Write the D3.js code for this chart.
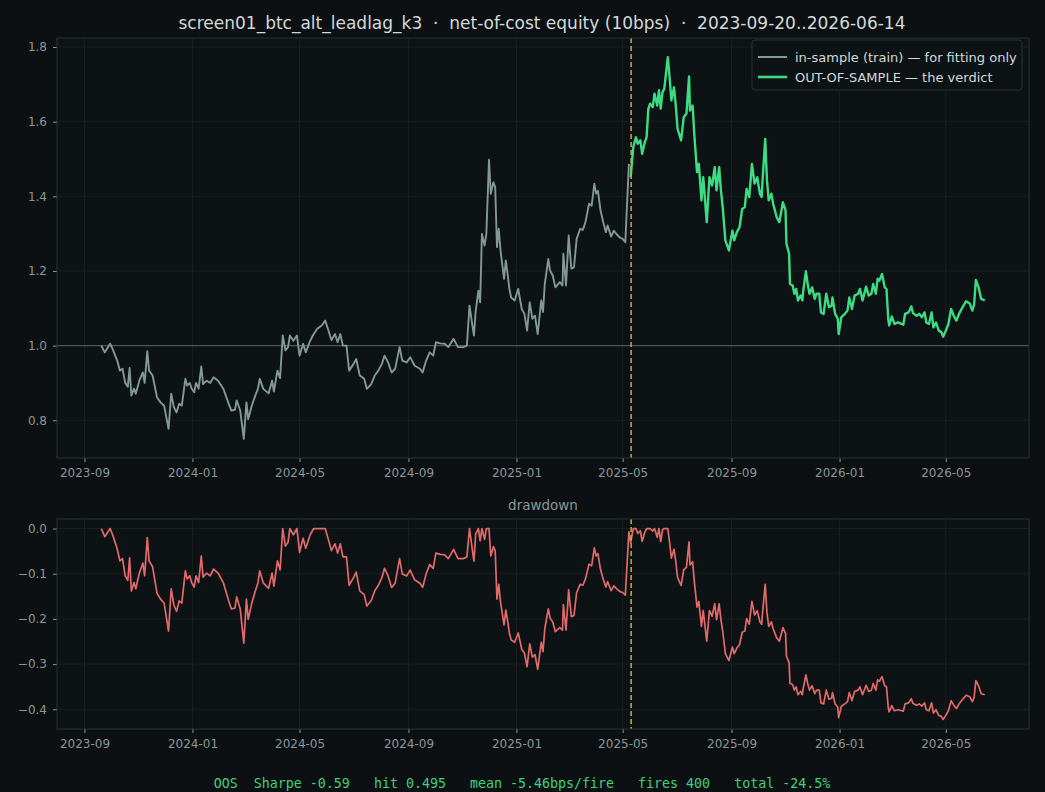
<!DOCTYPE html>
<html>
<head>
<meta charset="utf-8">
<script src="https://cdn.jsdelivr.net/npm/d3@7"></script>
<style>
  html,body{margin:0;padding:0;background:#0c1013;}
  svg{display:block;}
</style>
</head>
<body>
<div id="chart"></div>
<script>
// ---- data (day offset from 2023-09-20, equity value)
const startDate = new Date(2023, 8, 20);
const endDay = 998;
const splitDay = 598;

const isDays = [0,4,10,13,18,21,24,27,30,32,34,37,39,43,47,49,52,54,58,63,67,71,76,79,82,85,88,91,95,97,100,102,105,107,110,113,115,119,123,127,132,138,144,147,151,153,157,161,164,166,170,174,177,179,183,189,193,195,199,202,205,208,211,213,217,221,224,228,231,236,240,244,249,253,256,260,264,267,270,273,277,280,285,288,292,297,300,305,309,313,317,320,324,328,332,337,340,345,349,354,360,363,367,371,375,378,383,388,392,398,403,409,413,416,419,421,423,426,428,430,433,435,438,440,443,445,447,449,451,455,457,459,461,463,467,471,475,478,481,484,487,490,493,497,499,501,505,507,510,513,518,521,522,525,528,531,534,537,541,544,547,551,554,557,559,561,564,567,570,572,576,579,582,586,589,592,596];
const isEquity = [1.000,0.982,1.005,0.990,0.960,0.933,0.938,0.900,0.890,0.940,0.866,0.885,0.871,0.906,0.928,0.900,0.985,0.933,0.920,0.861,0.848,0.839,0.777,0.871,0.835,0.821,0.844,0.839,0.911,0.893,0.900,0.885,0.875,0.900,0.885,0.944,0.897,0.906,0.900,0.915,0.906,0.884,0.844,0.826,0.828,0.853,0.826,0.750,0.848,0.803,0.839,0.866,0.884,0.911,0.884,0.872,0.906,0.877,0.933,0.913,1.027,0.987,0.996,1.027,1.013,1.027,0.973,1.005,0.982,1.013,1.031,1.045,1.054,1.067,1.045,1.015,1.031,1.009,1.031,1.000,1.000,0.933,0.951,0.964,0.920,0.911,0.884,0.897,0.920,0.933,0.951,0.973,0.955,0.928,0.938,0.996,0.960,0.955,0.969,0.946,0.938,0.928,0.960,0.982,0.973,1.009,1.006,1.005,0.996,1.018,0.996,0.996,1.000,1.107,1.058,1.027,1.094,1.147,1.116,1.299,1.268,1.299,1.498,1.407,1.438,1.424,1.264,1.313,1.255,1.179,1.228,1.192,1.152,1.129,1.121,1.152,1.098,1.085,1.040,1.116,1.072,1.080,1.031,1.121,1.090,1.165,1.232,1.201,1.188,1.156,1.170,1.161,1.246,1.161,1.295,1.206,1.210,1.286,1.313,1.310,1.331,1.380,1.375,1.434,1.407,1.415,1.362,1.331,1.304,1.322,1.292,1.308,1.299,1.289,1.286,1.277,1.487];

const oosDays = [598,601,604,606,609,611,614,616,618,620,623,625,628,630,632,634,636,640,642,644,647,649,651,655,658,661,664,665,668,670,673,675,678,680,684,687,690,693,695,698,700,702,705,709,713,715,718,721,724,727,729,732,735,738,741,744,746,747,750,752,754,757,759,763,766,770,773,774,777,778,781,783,785,787,790,792,793,796,798,800,803,806,808,811,813,816,819,822,825,826,829,832,833,836,840,843,845,848,851,855,857,860,864,867,870,872,875,877,879,882,885,887,889,890,893,896,900,904,906,908,912,915,917,921,924,927,930,932,935,938,940,943,946,949,951,954,957,960,963,966,969,973,977,981,984,986,988,991,994,998];
const oosEquity = [1.451,1.532,1.558,1.541,1.550,1.514,1.545,1.558,1.635,1.648,1.639,1.675,1.643,1.684,1.635,1.679,1.688,1.773,1.719,1.657,1.692,1.643,1.581,1.550,1.612,1.621,1.721,1.630,1.643,1.563,1.465,1.487,1.389,1.451,1.331,1.451,1.429,1.478,1.416,1.478,1.416,1.371,1.282,1.255,1.308,1.282,1.304,1.317,1.366,1.371,1.420,1.398,1.487,1.434,1.451,1.407,1.398,1.442,1.554,1.442,1.389,1.407,1.380,1.344,1.331,1.384,1.362,1.273,1.246,1.165,1.161,1.139,1.152,1.121,1.134,1.121,1.147,1.199,1.165,1.139,1.156,1.125,1.139,1.139,1.089,1.085,1.139,1.103,1.107,1.129,1.085,1.072,1.031,1.076,1.085,1.094,1.129,1.098,1.134,1.139,1.152,1.121,1.158,1.134,1.139,1.165,1.139,1.179,1.174,1.192,1.156,1.152,1.072,1.054,1.078,1.058,1.062,1.058,1.056,1.085,1.089,1.105,1.087,1.080,1.085,1.076,1.089,1.062,1.058,1.089,1.049,1.062,1.040,1.036,1.024,1.040,1.058,1.098,1.080,1.067,1.085,1.103,1.119,1.113,1.094,1.110,1.176,1.156,1.125,1.121];

const xTickLabels = ["2023-09","2024-01","2024-05","2024-09","2025-01","2025-05","2025-09","2026-01","2026-05"];
const eqTicks = [0.8,1.0,1.2,1.4,1.6,1.8];
const ddTicks = [0.0,-0.1,-0.2,-0.3,-0.4];

const titleText = "screen01_btc_alt_leadlag_k3  \u00b7  net-of-cost equity (10bps)  \u00b7  2023-09-20..2026-06-14";
const legendLabels = ["in-sample (train) \u2014 for fitting only", "OUT-OF-SAMPLE \u2014 the verdict"];
const footerText = "OOS  Sharpe -0.59   hit 0.495   mean -5.46bps/fire   fires 400   total -24.5%";

// ---- build rows
var toDate = d => d3.timeDay.offset(startDate, d);
var isRows = isDays.map((d,i)=>({date:toDate(d), v:isEquity[i]}));
var oosRows = oosDays.map((d,i)=>({date:toDate(d), v:oosEquity[i]}));
var allRows = isRows.concat(oosRows);
var peak = -Infinity;
var ddRows = allRows.map(r=>{
  peak = Math.max(peak, r.v);
  return {date:r.date, v:r.v/peak - 1};
});

// ---- layout
const W = 1045, H = 792;
const left = 57, right = 1029;
const top1 = 38, bot1 = 458;
const top2 = 519, bot2 = 729;

const C = {
  bg:"#0c1013", axbg:"#0d1215", spine:"#283233", grid:"#1a2325",
  tick:"#8b9695", text:"#d3d9d9", is:"#829996", oos:"#3ddc84",
  dd:"#e26a6a", split:"#d1a83c", one:"#4b5757", footer:"#3fd27c"
};

const svg = d3.select("#chart").append("svg").attr("width",W).attr("height",H);
svg.append("rect").attr("width",W).attr("height",H).attr("fill",C.bg);

var pad = 50;
var x = d3.scaleTime()
  .domain([d3.timeDay.offset(startDate,-pad), d3.timeDay.offset(startDate,endDay+pad)])
  .range([left,right]);

var eMin = d3.min(allRows,d=>d.v), eMax = d3.max(allRows,d=>d.v);
var eP = (eMax-eMin)*0.05;
var y1 = d3.scaleLinear().domain([eMin-eP,eMax+eP]).range([bot1,top1]);
var dMin = d3.min(ddRows,d=>d.v);
var dP = (0-dMin)*0.05;
var y2 = d3.scaleLinear().domain([dMin-dP,0+dP]).range([bot2,top2]);

var xTicks = xTickLabels.map(s=>d3.timeParse("%Y-%m")(s));

var drawPanel = function(yScale, yTop, yBot, ticks, fmt){
  var g = svg.append("g");
  g.append("rect").attr("x",left).attr("y",yTop).attr("width",right-left).attr("height",yBot-yTop)
    .attr("fill",C.axbg);
  // grid
  g.selectAll(".vg").data(xTicks).enter().append("line")
    .attr("x1",d=>x(d)).attr("x2",d=>x(d)).attr("y1",yTop).attr("y2",yBot)
    .attr("stroke",C.grid).attr("stroke-width",0.8);
  g.selectAll(".hg").data(ticks).enter().append("line")
    .attr("x1",left).attr("x2",right).attr("y1",d=>yScale(d)).attr("y2",d=>yScale(d))
    .attr("stroke",C.grid).attr("stroke-width",0.8);
  // axes
  var ax = g.append("g").attr("transform","translate(0,"+yBot+")")
    .call(d3.axisBottom(x).tickValues(xTicks).tickFormat(d3.timeFormat("%Y-%m")).tickSize(4).tickPadding(6));
  var ay = g.append("g").attr("transform","translate("+left+",0)")
    .call(d3.axisLeft(yScale).tickValues(ticks).tickFormat(fmt).tickSize(4).tickPadding(6));
  [ax,ay].forEach(a=>{
    a.select(".domain").remove();
    a.selectAll("line").attr("stroke",C.tick);
    a.selectAll("text").attr("fill",C.tick).attr("font-family","DejaVu Sans").attr("font-size",12);
  });
  return g;
};

drawPanel(y1, top1, bot1, eqTicks, d3.format(".1f"));
drawPanel(y2, top2, bot2, ddTicks, d3.format(".1f"));

// reference line at 1.0
svg.append("line").attr("x1",left).attr("x2",right).attr("y1",y1(1)).attr("y2",y1(1))
  .attr("stroke",C.one).attr("stroke-width",1.2);

var line1 = d3.line().x(d=>x(d.date)).y(d=>y1(d.v));
var line2 = d3.line().x(d=>x(d.date)).y(d=>y2(d.v));

svg.append("path").datum(isRows).attr("d",line1).attr("fill","none")
  .attr("stroke",C.is).attr("stroke-width",1.9).attr("stroke-linejoin","round");
svg.append("path").datum(oosRows).attr("d",line1).attr("fill","none")
  .attr("stroke",C.oos).attr("stroke-width",2.4).attr("stroke-linejoin","round");
svg.append("path").datum(ddRows).attr("d",line2).attr("fill","none")
  .attr("stroke",C.dd).attr("stroke-width",1.7).attr("stroke-linejoin","round");

// split markers
var sx = x(toDate(splitDay)) + 0.5;
[[top1,bot1],[top2,bot2]].forEach(p=>{
  svg.append("line").attr("x1",sx).attr("x2",sx).attr("y1",p[0]).attr("y2",p[1])
    .attr("stroke",C.split).attr("stroke-width",1.5).attr("stroke-dasharray","5,3");
});

// frames
[[top1,bot1],[top2,bot2]].forEach(p=>{
  svg.append("rect").attr("x",left).attr("y",p[0]).attr("width",right-left).attr("height",p[1]-p[0])
    .attr("fill","none").attr("stroke",C.spine).attr("stroke-width",1);
});

// legend
var lg = svg.append("g").attr("transform","translate(752,40)");
lg.append("rect").attr("width",270).attr("height",50).attr("rx",3)
  .attr("fill",C.axbg).attr("stroke",C.spine).attr("stroke-width",1);
var lcol = [C.is, C.oos], lw = [2,2.6];
legendLabels.forEach((t,i)=>{
  var yy = 17 + i*20;
  lg.append("line").attr("x1",6).attr("x2",35).attr("y1",yy).attr("y2",yy)
    .attr("stroke",lcol[i]).attr("stroke-width",lw[i]);
  lg.append("text").attr("x",43).attr("y",yy).attr("dy","0.35em").text(t)
    .attr("fill",C.text).attr("font-family","DejaVu Sans").attr("font-size",13);
});

// titles
svg.append("text").attr("x",542).attr("y",23).attr("dy","0.35em").attr("text-anchor","middle")
  .style("white-space","pre")
  .text(titleText).attr("fill",C.text).attr("font-family","DejaVu Sans").attr("font-size",17);
svg.append("text").attr("x",(left+right)/2).attr("y",505).attr("dy","0.35em").attr("text-anchor","middle")
  .text("drawdown").attr("fill",C.tick).attr("font-family","DejaVu Sans").attr("font-size",13.5);
svg.append("text").attr("x",522).attr("y",783).attr("dy","0.35em").attr("text-anchor","middle")
  .style("white-space","pre")
  .text(footerText).attr("fill",C.footer).attr("font-family","DejaVu Sans Mono").attr("font-size",13.3);
</script>
</body>
</html>
